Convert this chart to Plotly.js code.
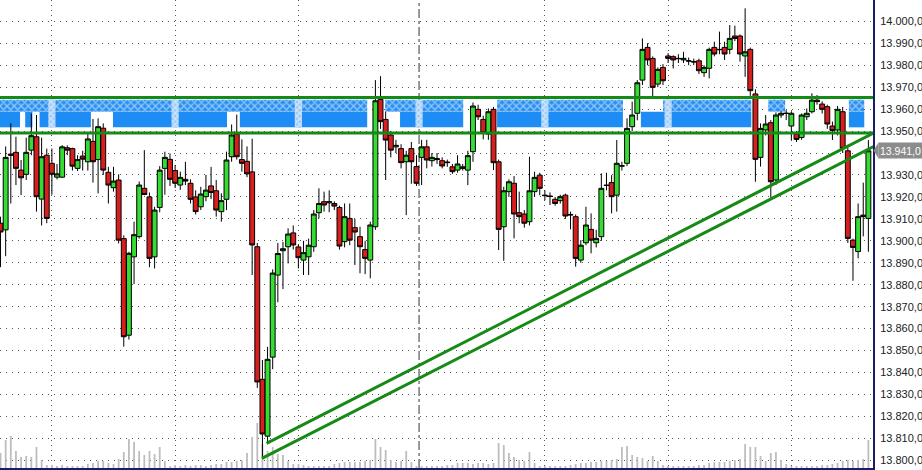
<!DOCTYPE html>
<html><head><meta charset="utf-8">
<script src="https://cdn.plot.ly/plotly-3.0.1.min.js"></script>
<style>html,body{margin:0;padding:0;background:#fff;overflow:hidden}#chart{width:922px;height:470px}</style>
</head><body><div id="chart"></div>
<script>
// bar index of the first (partially visible) candle
const firstIndex = -1;

const openP = [
13908,13905,13939.5,13940.3,13932.2,13930.3,13941.3,13947.4,13919,13939,
13935.3,13929,13929,13942.4,13942,13933,13938.6,13936,13945.3,13937,
13951.3,13931.2,13924.2,13927.7,13901,13857,13892.7,13901.9,13923.9,13920,
13892.7,13915.2,13933,13937.1,13932,13925.4,13928,13926.2,13920,13915.5,
13920.1,13925,13922.8,13913.3,13918.9,13938.3,13948.6,13937,13936.2,13931.4,
13897.3,13836.9,13811,13847,13884.4,13895.5,13897.3,13903.6,13897.2,13891.2,
13892.7,13897.3,13912.8,13917.8,13917.3,13917,13915.2,13899.6,13910.2,13906,
13901.9,13896,13891.2,13906.4,13964.4,13955.3,13948.2,13942.8,13942,13936,
13942,13933.8,13938,13942.8,13936.5,13937.5,13936.5,13935.6,13933.7,13932.2,
13933.7,13932.2,13940.6,13959.9,13955.3,13948.6,13959.9,13936,13906.4,13922.4,
13926.2,13912.8,13912.2,13908.7,13922.4,13929.9,13920.8,13920.4,13918.9,13918.3,
13920.8,13912,13911,13891.2,13899.1,13905.2,13899.1,13901.9,13925.4,13926.5,
13920.8,13934,13935.3,13952,13958.1,13973.2,13988.1,13983.1,13971.4,13979,
13984.2,13983.9,13983.1,13982.4,13982,13981.6,13982,13976.6,13978.6,13988.1,
13987.2,13988.1,13987.2,13993.3,13993.3,13984.2,13987.2,13966.9,13938,13950.5,
13953.8,13927.7,13957.3,13958,13952.3,13948.6,13947.1,13956.5,13958.8,13964.1,
13962.3,13961.1,13952.3,13950.5,13958.8,13941,13900.3,13895.1,13911.7,13910.2
];
const highP = [
13911,13943,13953.5,13947.4,13936.8,13947,13958,13957.3,13947,13942,
13942,13935,13943.6,13943.5,13942.4,13939,13941,13949,13955.5,13955.8,
13953.5,13933.7,13933.7,13930.3,13902.5,13895,13908.7,13927,13941.3,13922,
13915.5,13934,13940.6,13939.8,13934.5,13931.5,13936,13928,13923,13924.6,
13930,13933.7,13927.7,13921.6,13940.6,13953,13957.5,13946.2,13943,13946.5,
13899,13845.7,13851.7,13887,13899,13899.5,13905.7,13907,13898.5,13900,
13901,13914,13923.9,13922.4,13923,13918,13916,13917,13917,13910,
13906.4,13900,13908.7,13973.2,13975,13958.8,13950,13946,13944,13941,
13945,13939,13946,13946,13940,13940,13938,13937,13935,13939,
13935,13941,13963,13962,13957,13960.3,13961,13937,13924.6,13928,
13929.5,13922.4,13914,13938.3,13931.5,13931,13923,13922,13920,13921,
13921.5,13913.3,13912,13900.3,13915.5,13912.5,13905,13930.7,13931,13929.9,
13945.9,13936,13955.8,13963.4,13973.2,13992.2,13990,13984,13979,13980.5,
13985.5,13984.5,13985,13986.1,13983.5,13983,13983,13980,13988,13990.7,
13995.3,13990.7,13998.3,13998,13994,14005.9,13988,13969,13953.5,13957.3,
13955,13958.5,13959,13959.5,13959,13950,13958,13960.3,13967.2,13966.4,
13963.5,13962,13954.3,13961.4,13961,13942.5,13901,13917,13926.5,13945.9
];
const lowP = [
13888,13893,13917,13925.4,13920.8,13927.7,13939,13913.3,13907,13908,
13921,13928,13928.6,13939,13932,13931.8,13932,13932,13926.5,13921.6,
13930,13917,13922.4,13898.8,13851.8,13855,13880.3,13901,13920.8,13888,
13887.4,13913,13921,13925,13924,13923.2,13925.4,13917,13912,13914,
13918,13919,13911,13908.7,13914,13936,13937,13931.5,13929,13884.4,
13833,13801.6,13808,13841.5,13872,13878,13889.7,13896,13887.4,13884.4,
13884.4,13895,13910.2,13913.3,13913,13914,13896,13897,13898,13889,
13885.2,13884.8,13882.9,13905,13951,13927.7,13938,13940,13933,13911.7,
13926,13925,13925.4,13933,13933.8,13935,13933,13933.7,13930.5,13931,
13932,13925.4,13936,13955,13946.2,13946,13932.2,13895.8,13890.9,13920,
13901.1,13908,13906,13907,13920,13920.8,13918.5,13916.3,13916,13917,
13910,13905.2,13888.2,13890,13898,13894.3,13897,13900,13923,13912.5,
13913.3,13932,13934,13950,13954.9,13971,13980,13965.6,13970,13971,
13981,13978.5,13981,13981,13980,13980,13976,13974.7,13974,13984,
13985,13982.4,13985,13991,13981.6,13974.7,13966,13926.9,13933.8,13948,
13919.3,13925.4,13956,13955,13945.9,13945,13946,13955,13958,13962,
13958,13951,13945.9,13948,13940,13899,13881.8,13892,13902,13895
];
const closeP = [
13904,13938,13939,13933,13928.7,13940.3,13947.9,13920.1,13938.3,13910.2,
13930.3,13930.5,13942.8,13941.3,13934,13937,13937.2,13946.4,13936,13952,
13932.2,13925.4,13927.2,13900.3,13856.3,13894.3,13902.8,13925.4,13921.1,13892,
13914,13932.2,13938,13928,13926.2,13928.9,13927.2,13918.9,13913.3,13921.3,
13923.1,13922,13914,13918.3,13936.8,13948.2,13938.3,13935.3,13930.5,13898.1,
13835.7,13812,13846,13885.3,13894.2,13896.4,13903.1,13898.1,13892.3,13894.6,
13898,13912.2,13917,13916.3,13917.8,13915.8,13897.6,13911,13900.3,13904,
13897.3,13892,13907.2,13963.8,13954.3,13945.9,13941.3,13943.5,13935.6,13939,
13936,13926.2,13942.8,13936.8,13938,13937,13934.1,13935.8,13931.5,13935,
13933,13938.8,13961.4,13956.5,13949.2,13958.8,13935.6,13905.2,13922.8,13926.9,
13912.2,13911,13908,13922.8,13928.9,13923.9,13920.6,13920.2,13917,13920.1,
13911.3,13911.8,13892,13898,13907.2,13900.3,13901.1,13923.9,13925.2,13920.1,
13935.3,13934.2,13951.2,13957.3,13972,13987.2,13982.4,13969.9,13978.1,13972.9,
13983.1,13982.4,13983,13983.1,13981.9,13981.5,13977.5,13979,13987.2,13985.1,
13987.1,13985.1,13992.2,13992.2,13985.1,13986.1,13968.4,13937.1,13951.2,13953.2,
13926.9,13957.3,13958.1,13958.1,13958.1,13946.2,13957.3,13958.1,13964.1,13963.4,
13959.9,13953.2,13950.2,13959.9,13942.1,13901.1,13897,13911,13911,13941
];
// volume (hundreds of lots)
const volume = [
15,28,32,17,11,12,11,21,8,3,
3,2,3,2,2,2,2,4,5,7,
7,5,4,9,16,29,26,17,13,17,
14,21,7,2,3,2,3,2,3,3,
2,3,4,4,6,6,7,8,15,31,
45,24,17,21,14,13,7,4,4,3,
2,2,2,2,2,4,5,6,6,6,
6,7,8,29,21,18,8,6,7,17,
6,2,2,2,2,2,2,3,3,5,
5,5,4,5,5,4,5,25,23,15,
11,8,7,16,5,2,2,2,2,2,
2,3,4,5,5,6,6,7,7,8,
9,21,22,13,11,10,7,12,7,3,
2,2,2,2,2,2,3,3,5,6,
6,6,7,8,9,24,21,21,12,7,
15,16,8,4,2,2,2,2,2,2,
3,3,4,5,7,8,7,8,9,28
];

const priceTicks = [13800,13810,13820,13830,13840,13850,13860,13870,13880,13890,13900,
  13910,13920,13930,13940,13950,13960,13970,13980,13990,14000];
const sessionLines = [9,33,57,105,129,153];
const daySeparator = [80.5];

// horizontal resistance levels (green lines)
const levels = [13965.3, 13949.1];
// blue zone: bottom, split, top prices
const zonePrices = [13951.7, 13958.8, 13964.3];
// zone segments in bar index units
const zoneLowerStart = [-1.3, 3.8, 6.6, 20.9, 45.6, 76.8, 95.7, 123.7, 164.2];
const zoneLowerEnd   = [2.8, 5.2, 16.6, 43.1, 70.4, 89.1, 120.2, 145.2, 167.2];
const zoneUpperStart = [-1.3, 73.9, 95.7, 128, 148.5, 164.2];
const zoneUpperEnd   = [70.4, 89.1, 120.2, 145.2, 151.8, 167.2];

// trend lines (bar index, price)
const trendUpperX = [50.8, 168.9];
const trendUpperY = [13807.7, 13949.0];
const trendLowerX = [49.9, 169.0];
const trendLowerY = [13800.9, 13942.9];

const idx = openP.map((_, k) => firstIndex + k);
const GREEN_LINE = '#168a16';
const last = closeP[closeP.length - 1];

function fmt(v) {
  const s = v.toFixed(1).split('.');
  return s[0].replace(/\B(?=(\d{3})+(?!\d))/g, '.') + ',' + s[1];
}

function zoneBars(starts, ends, lo, hi, marker) {
  return {type:'bar', xaxis:'x', yaxis:'y2',
    x: starts.map((s, k) => (s + ends[k]) / 2),
    width: starts.map((s, k) => ends[k] - s),
    base: starts.map(() => lo), y: starts.map(() => hi - lo),
    marker: marker, hoverinfo:'skip', showlegend:false};
}
const gridCols = sessionLines.concat(daySeparator).filter(c => c < 130);

const shapes = [];
// day separator
daySeparator.forEach(c => shapes.push({type:'line', xref:'x', yref:'paper', x0:c, x1:c, y0:0, y1:1,
  line:{color:'#333', width:1, dash:'dashdot'}, layer:'below'}));
// resistance lines
levels.forEach(v => shapes.push({type:'line', xref:'paper', yref:'y2', x0:0, x1:1, y0:v, y1:v,
  line:{color:GREEN_LINE, width:3}, layer:'above'}));
// trend lines
shapes.push({type:'line', xref:'x', yref:'y2', x0:trendUpperX[0], x1:trendUpperX[1], y0:trendUpperY[0], y1:trendUpperY[1],
  line:{color:GREEN_LINE, width:3}, layer:'above'});
shapes.push({type:'line', xref:'x', yref:'y2', x0:trendLowerX[0], x1:trendLowerX[1], y0:trendLowerY[0], y1:trendLowerY[1],
  line:{color:GREEN_LINE, width:3}, layer:'above'});

const traces = [
  {type:'bar', x: idx, y: volume, xaxis:'x', yaxis:'y', width:0.35,
   marker:{color:'#bdbdbd', line:{width:0}}, hoverinfo:'skip', showlegend:false},
  zoneBars(zoneLowerStart, zoneLowerEnd, zonePrices[0], zonePrices[1],
    {color:'#1e8cf5', line:{width:0}}),
  zoneBars(zoneUpperStart, zoneUpperEnd, zonePrices[1], zonePrices[2],
    {color:'#2a90f2', line:{width:0},
     pattern:{shape:'x', fgcolor:'#ffffff', size:5, solidity:0.45, fillmode:'overlay'}}),
  zoneBars(gridCols.map(c => c - 0.7), gridCols.map(c => c + 0.7), zonePrices[0], zonePrices[2],
    {color:'#9ccaf6', line:{width:0},
     pattern:{shape:'x', fgcolor:'#ffffff', size:4, solidity:0.6, fillmode:'overlay'}}),
  {type:'candlestick', x: idx, open: openP, high: highP, low: lowP, close: closeP,
   xaxis:'x', yaxis:'y2', whiskerwidth:0,
   increasing:{line:{color:'#000', width:1}, fillcolor:'#34dc34'},
   decreasing:{line:{color:'#000', width:1}, fillcolor:'#d81f1f'},
   hoverinfo:'skip', showlegend:false}
];

const tickText = priceTicks.map(v => (Math.abs(v - last) < 5 ? '' : fmt(v)));

const layout = {
  width:922, height:470,
  margin:{l:0, r:49, t:0, b:2, pad:0},
  paper_bgcolor:'#ffffff', plot_bgcolor:'#ffffff',
  separators:',.',
  showlegend:false,
  barmode:'overlay',
  boxgap:0.05, boxgroupgap:0,
  xaxis:{range:[-1.104, 168.9], showticklabels:false, ticks:'', tickvals:sessionLines,
    showgrid:true, gridcolor:'#555', griddash:'1px,4px', gridwidth:1, zeroline:false,
    showline:true, linecolor:'#1b1b6b', linewidth:2, fixedrange:true,
    rangeslider:{visible:false}},
  yaxis:{range:[0, 468], visible:false, fixedrange:true, showgrid:false, zeroline:false},
  yaxis2:{overlaying:'y', anchor:'x', side:'right', range:[13796.5, 14009.7], tickvals:priceTicks,
    ticktext:tickText, showgrid:true, gridcolor:'#555', griddash:'1px,5px', gridwidth:1,
    zeroline:false, showline:true, linecolor:'#1b1b6b', linewidth:2, ticks:'',
    ticklabelstandoff:3,
    tickfont:{family:'Liberation Sans, Arial, sans-serif', size:11, color:'#222'}, fixedrange:true},
  shapes: shapes,
  annotations:[{xref:'paper', yref:'y2', x:1, y:last, xanchor:'left', yanchor:'middle', xshift:5,
    text: fmt(last), showarrow:false, bgcolor:'#8c8c8c', borderpad:1, width:42, height:13, align:'left',
    font:{family:'Liberation Sans, Arial, sans-serif', size:10.5, color:'#ffffff'}}]
};

Plotly.newPlot('chart', traces, layout, {staticPlot:true, displayModeBar:false}).then(() => {
  // small left-pointing arrow on the last-price tag
  const ann = document.querySelector('.annotation-text-g rect.bg');
  if (!ann) return;
  const r = ann.getBoundingClientRect();
  const ns = 'http://www.w3.org/2000/svg';
  const layers = document.querySelectorAll('.main-svg');
  const top = layers[layers.length - 1];
  const p = document.createElementNS(ns, 'path');
  const x1 = r.left, yc = r.top + r.height / 2, h = r.height / 2;
  p.setAttribute('d', `M ${x1 - 5},${yc} L ${x1},${yc - h} L ${x1},${yc + h} Z`);
  p.setAttribute('fill', '#8c8c8c');
  top.appendChild(p);
});
</script>
</body></html>
